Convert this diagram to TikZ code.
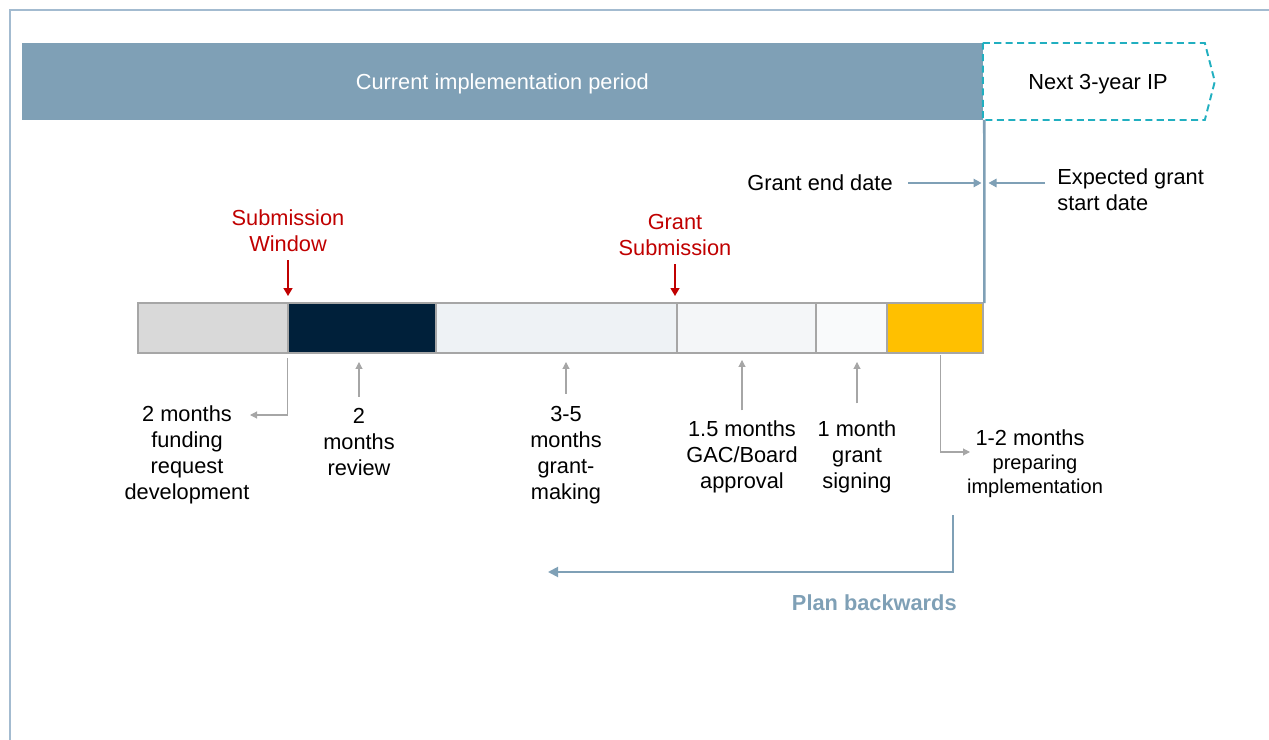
\documentclass[tikz,border=0pt]{standalone}
\usepackage{fontspec}
\setmainfont{Liberation Sans}
\usetikzlibrary{arrows.meta, calc, positioning}

\definecolor{barblue}{RGB}{127,160,182}
\definecolor{framecol}{RGB}{163,187,208}
\definecolor{nextcol}{RGB}{33,175,192}
\definecolor{subred}{RGB}{192,0,0}
\definecolor{seggray}{RGB}{166,166,166}
\definecolor{arrowgray}{RGB}{166,166,166}
\definecolor{devgray}{RGB}{217,217,217}
\definecolor{navy}{RGB}{0,32,58}
\definecolor{grantfill}{RGB}{238,242,245}
\definecolor{gacfill}{RGB}{244,246,248}
\definecolor{signfill}{RGB}{249,250,251}
\definecolor{prepfill}{RGB}{255,192,0}

\begin{document}
\begin{tikzpicture}[
        x=0.02cm, y=-0.02cm,
        >=Stealth,
        font=\fontsize{12.4}{14.8}\selectfont,
        seg/.style={draw=seggray, line width=1.3pt, minimum height=1cm, inner sep=0pt, outer sep=0pt},
        lbl/.style={align=center, inner sep=0pt},
        smalllbl/.style={lbl, font=\fontsize{11.4}{13.7}\selectfont},
        grayarrow/.style={draw=arrowgray, line width=0.6pt, -{Triangle[length=1.4mm, width=1.4mm]}},
        bluearrow/.style={draw=barblue, line width=0.9pt, -{Triangle[length=1.6mm, width=1.7mm]}},
        redarrow/.style={draw=subred, line width=0.8pt, -{Triangle[length=1.6mm, width=1.8mm]}},
        planarrow/.style={draw=barblue, line width=1.1pt, -{Triangle[length=2mm, width=2mm]}}
    ]
    \useasboundingbox (0,0) rectangle (1269,740);
    \draw[framecol, line width=0.8pt] (10,740) -- (10,10) -- (1269,10);

    % Implementation periods
    \node[fill=barblue, text=white, text depth=0pt, minimum width=19.22cm, minimum height=1.54cm, inner sep=0pt, outer sep=0pt, anchor=north west] (current) at (22,43) {Current implementation period};
    \draw[nextcol, line width=1.1pt, dash pattern=on 4pt off 2.5pt] (current.north east) -- ++(222,0) -- ++(10,38.5) -- ++(-10,38.5) -- (current.south east) -- cycle;
    \node[text depth=0pt] (nextip) at (1098,82) {Next 3-year IP};

    % Timeline segments
    \node[seg, fill=devgray, minimum width=3cm, anchor=north west] (s1) at (138,303) {};
    \node[seg, fill=navy, minimum width=2.96cm, right=0pt of s1] (s2) {};
    \node[seg, fill=grantfill, minimum width=4.82cm, right=0pt of s2] (s3) {};
    \node[seg, fill=gacfill, minimum width=2.78cm, right=0pt of s3] (s4) {};
    \node[seg, fill=signfill, minimum width=1.42cm, right=0pt of s4] (s5) {};
    \node[seg, fill=prepfill, minimum width=1.92cm, right=0pt of s5] (s6) {};

    \draw[barblue, line width=1.5pt] ([xshift=0.03cm]current.south east) -- ([xshift=0.03cm]s6.north east);

    % Grant dates
    \coordinate (gline) at (985,183);
    \node[anchor=east, inner sep=0pt] (enddate) at (893,183) {Grant end date};
    \draw[bluearrow] ([xshift=0.3cm]enddate.east) -- ([xshift=-0.07cm]gline);
    \node[lbl, align=left, anchor=west] (startdate) at (1057,190) {Expected grant\\start date};
    \draw[bluearrow] ([xshift=-0.24cm]startdate.west |- gline) -- ([xshift=0.07cm]gline);

    % Milestones
    \node[lbl, text=subred] (subwin) at (288,231) {Submission\\Window};
    \draw[redarrow] ([yshift=-0.16cm]subwin.south) -- ([yshift=0.14cm]subwin.south |- s1.north);
    \node[lbl, text=subred] (grantsub) at (675,235) {Grant\\Submission};
    \draw[redarrow] ([yshift=-0.16cm]grantsub.south) -- ([yshift=0.14cm]grantsub.south |- s3.north);

    % Durations
    \node[lbl] (lab1) at (187,455) {2 months\\funding\\request\\development};
    \node[lbl] (lab2) at (359,442) {2\\months\\review};
    \node[lbl] (lab3) at (566,455) {3-5\\months\\grant-\\making};
    \node[lbl] (lab4) at (742,457) {1.5 months\\GAC/Board\\approval};
    \node[lbl] (lab5) at (857,457) {1 month\\grant\\signing};
    \node[lbl] (lab6) at (1030,438) {1-2 months};
    \node[smalllbl] (lab6b) at (1035,476) {preparing\\implementation};

    \coordinate (lab1arr) at (250,415);
    \draw[grayarrow] ([yshift=-0.1cm]s1.south east) |- (lab1arr);
    \draw[grayarrow] ([yshift=0.22cm]lab2.north) -- ([yshift=-0.18cm]lab2.north |- s2.south);
    \draw[grayarrow] ([yshift=0.24cm]lab3.north) -- ([yshift=-0.18cm]lab3.north |- s3.south);
    \draw[grayarrow] ([yshift=0.2cm]lab4.north) -- ([yshift=-0.14cm]lab4.north |- s4.south);
    \draw[grayarrow] ([yshift=0.34cm]lab5.north) -- ([yshift=-0.18cm]lab5.north |- s5.south);
    \coordinate (lab6arr) at (970,452);
    \draw[grayarrow] ([xshift=0.12cm, yshift=-0.04cm]s6.south) |- (lab6arr);

    % Plan backwards
    \coordinate (planstart) at (953,515);
    \coordinate (planend) at (548,572);
    \draw[planarrow] (planstart) |- (planend);
    \node[anchor=east, inner sep=0pt, text=barblue, font=\fontsize{12.4}{14.8}\selectfont\bfseries] (plan) at (957,603) {Plan backwards};
\end{tikzpicture}
\end{document}
